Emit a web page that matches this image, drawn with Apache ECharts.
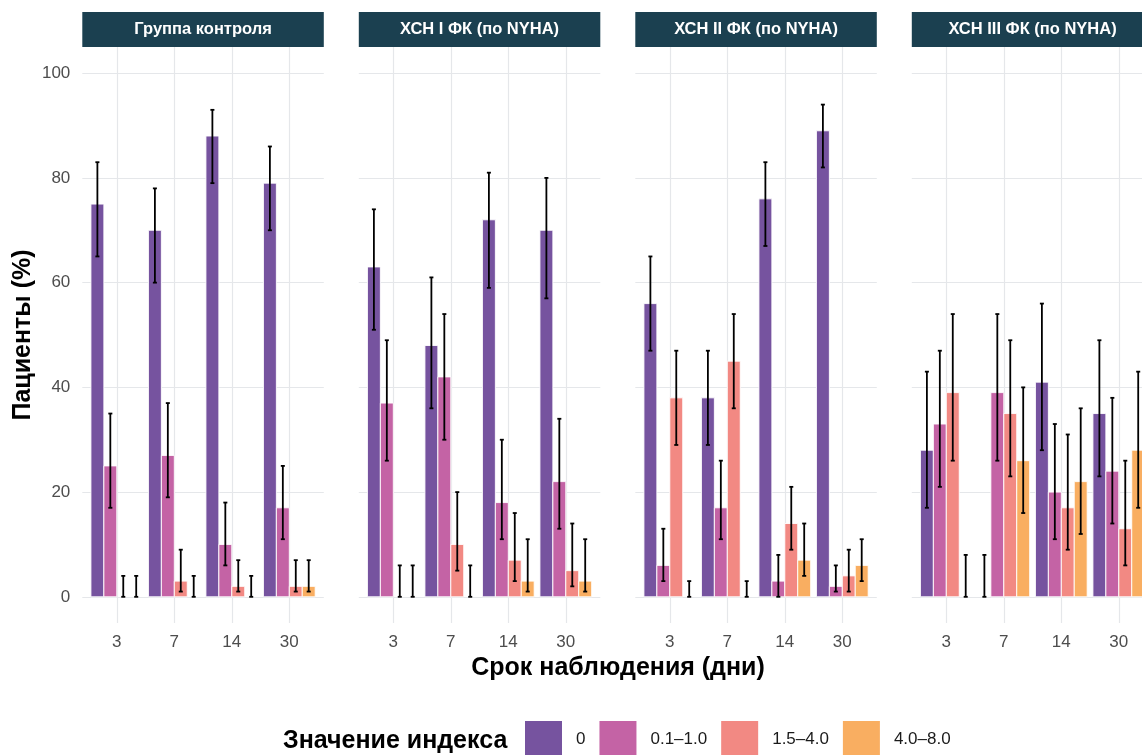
<!DOCTYPE html>
<html>
<head>
<meta charset="utf-8">
<script src="https://cdn.jsdelivr.net/npm/echarts@6/dist/echarts.min.js"></script>
<style>
  html, body { margin: 0; padding: 0; background: #ffffff; }
  #chart { width: 1142px; height: 755px; }
</style>
</head>
<body>
<div id="chart"></div>
<script>
// Observation days (x categories) and index-value groups (fill)
const days = ['3', '7', '14', '30'];
const levels = ['0', '0.1–1.0', '1.5–4.0', '4.0–8.0'];
const levelColors = ['#76539F', '#C463A5', '#F28983', '#F9AE61'];
const panelTitles = ['Группа контроля', 'ХСН I ФК (по NYHA)', 'ХСН II ФК (по NYHA)', 'ХСН III ФК (по NYHA)'];
const yTicks = [0, 20, 40, 60, 80, 100];

// Share of patients (%), one row per index group, one column per day
const controlMean = [[75, 70, 88, 79], [25, 27, 10, 17], [0, 3, 2, 2], [0, 0, 0, 2]];
const controlLow  = [[65, 60, 79, 70], [17, 19, 6, 11], [0, 1, 1, 1], [0, 0, 0, 1]];
const controlHigh = [[83, 78, 93, 86], [35, 37, 18, 25], [4, 9, 7, 7], [4, 4, 4, 7]];

const nyha1Mean = [[63, 48, 72, 70], [37, 42, 18, 22], [0, 10, 7, 5], [0, 0, 3, 3]];
const nyha1Low  = [[51, 36, 59, 57], [26, 30, 11, 13], [0, 5, 3, 2], [0, 0, 1, 1]];
const nyha1High = [[74, 61, 81, 80], [49, 54, 30, 34], [6, 20, 16, 14], [6, 6, 11, 11]];

const nyha2Mean = [[56, 38, 76, 89], [6, 17, 3, 2], [38, 45, 14, 4], [0, 0, 7, 6]];
const nyha2Low  = [[47, 29, 67, 82], [3, 11, 0, 1], [29, 36, 9, 1], [0, 0, 4, 3]];
const nyha2High = [[65, 47, 83, 94], [13, 26, 8, 6], [47, 54, 21, 9], [3, 3, 14, 11]];

const nyha3Mean = [[28, 0, 41, 35], [33, 39, 20, 24], [39, 35, 17, 13], [0, 26, 22, 28]];
const nyha3Low  = [[17, 0, 28, 23], [21, 26, 11, 14], [26, 23, 9, 6], [0, 16, 12, 17]];
const nyha3High = [[43, 8, 56, 49], [47, 54, 33, 38], [54, 49, 31, 26], [8, 40, 36, 43]];

const panelMeans = [controlMean, nyha1Mean, nyha2Mean, nyha3Mean];
const panelLows  = [controlLow, nyha1Low, nyha2Low, nyha3Low];
const panelHighs = [controlHigh, nyha1High, nyha2High, nyha3High];

// Layout of the facet panels (pixels); the last panel runs past the right edge
const FONT = "'Liberation Sans', Arial, sans-serif";
const CANVAS_W = 1142;
const panelLeft0 = 82.3, panelStep = 276.5, panelWidth = 241.5;
const panelTop = 47, panelHeight = 576;
const stripTop = 12, stripHeight = 35;
const xMin = 0.4, xMax = 4.6;
const pxPerUnit = panelWidth / (xMax - xMin);

// Dodge geometry (in x-axis units, category k sits at k+1)
const dodgeWidth = 0.9;
const slot = dodgeWidth / levels.length;
const capHalf = 0.035;
const slotOffset = j => -dodgeWidth / 2 + slot * (j + 0.5);

const grids = [], xAxes = [], yAxes = [], series = [], graphics = [];

panelTitles.forEach((title, p) => {
  const left = panelLeft0 + p * panelStep;
  // A panel cut by the canvas edge keeps its scale: only its visible part is laid out
  const visibleWidth = Math.min(panelWidth, CANVAS_W - left);
  const visibleMax = xMin + visibleWidth / pxPerUnit;
  grids.push({ left: left, top: panelTop, width: visibleWidth, height: panelHeight, containLabel: false });

  xAxes.push({
    type: 'value', gridIndex: p, min: xMin, max: visibleMax,
    axisLine: { show: false },
    axisTick: { show: false, customValues: [1, 2, 3, 4] },
    axisLabel: {
      customValues: [1, 2, 3, 4],
      formatter: v => days[Math.round(v) - 1],
      color: '#4D4D4D', fontSize: 17, fontFamily: FONT, margin: 11
    },
    splitLine: { show: true, lineStyle: { color: '#E5E7EA', width: 1.2 } }
  });

  yAxes.push({
    type: 'value', gridIndex: p, min: -5, max: 105,
    axisLine: { show: false },
    axisTick: { show: false, customValues: yTicks },
    axisLabel: {
      show: p === 0, customValues: yTicks,
      color: '#4D4D4D', fontSize: 17, fontFamily: FONT, margin: 12
    },
    splitLine: { show: true, lineStyle: { color: '#E5E7EA', width: 1.2 } }
  });

  // Bars: one series per index group so the legend lists each group once
  levels.forEach((lev, j) => {
    const data = days.map((d, k) => [k + 1, panelMeans[p][j][k]]);
    series.push({
      type: 'custom', name: lev, xAxisIndex: p, yAxisIndex: p,
      itemStyle: { color: levelColors[j] },
      data: data,
      renderItem: (params, api) => {
        const x = api.value(0) + slotOffset(j);
        const v = api.value(1);
        if (!(v > 0)) return null;
        const a = api.coord([x - slot / 2, 0]);
        const b = api.coord([x + slot / 2, v]);
        return {
          type: 'rect',
          shape: { x: a[0], y: b[1], width: b[0] - a[0], height: a[1] - b[1] },
          style: { fill: levelColors[j], stroke: '#ffffff', lineWidth: 0.9 }
        };
      }
    });
  });

  // Confidence intervals drawn above all bars of the panel
  const errData = [];
  levels.forEach((lev, j) => {
    days.forEach((d, k) => {
      errData.push([k + 1, j, panelLows[p][j][k], panelHighs[p][j][k]]);
    });
  });
  series.push({
    type: 'custom', name: 'ci-' + p, xAxisIndex: p, yAxisIndex: p,
    data: errData, silent: true, z: 5,
    renderItem: (params, api) => {
      const x = api.value(0) + slotOffset(api.value(1));
      const lo = api.value(2), hi = api.value(3);
      const top = api.coord([x, hi]);
      const bot = api.coord([x, lo]);
      const capL = api.coord([x - capHalf, hi])[0];
      const capR = api.coord([x + capHalf, hi])[0];
      const st = { stroke: '#000000', lineWidth: 1.8 };
      return {
        type: 'group',
        children: [
          { type: 'line', shape: { x1: top[0], y1: top[1], x2: bot[0], y2: bot[1] }, style: st },
          { type: 'line', shape: { x1: capL, y1: top[1], x2: capR, y2: top[1] }, style: st },
          { type: 'line', shape: { x1: capL, y1: bot[1], x2: capR, y2: bot[1] }, style: st }
        ]
      };
    }
  });

  // Facet strip (full panel width; title centred on the whole panel)
  graphics.push({
    type: 'rect', left: left, top: stripTop,
    shape: { width: panelWidth, height: stripHeight },
    style: { fill: '#1B4050' }, z: 10
  });
  graphics.push({
    type: 'text', x: left + panelWidth / 2, y: stripTop + stripHeight / 2, z: 11,
    style: {
      text: title, fill: '#ffffff', font: 'bold 16.5px ' + FONT,
      textAlign: 'center', textVerticalAlign: 'middle'
    }
  });
});

// Axis titles and legend title
graphics.push({
  type: 'text', x: 23, y: panelTop + panelHeight / 2, rotation: Math.PI / 2,
  style: {
    text: 'Пациенты (%)', fill: '#000000', font: 'bold 25px ' + FONT,
    textAlign: 'center', textVerticalAlign: 'middle'
  }
});
graphics.push({
  type: 'text', x: 618, y: 668,
  style: {
    text: 'Срок наблюдения (дни)', fill: '#000000', font: 'bold 25px ' + FONT,
    textAlign: 'center', textVerticalAlign: 'middle'
  }
});
graphics.push({
  type: 'text', x: 283, y: 741,
  style: {
    text: 'Значение индекса', fill: '#000000', font: 'bold 25px ' + FONT,
    textAlign: 'left', textVerticalAlign: 'middle'
  }
});

const chart = echarts.init(document.getElementById('chart'), null, { renderer: 'canvas' });
chart.setOption({
  animation: false,
  backgroundColor: '#ffffff',
  grid: grids,
  xAxis: xAxes,
  yAxis: yAxes,
  series: series,
  graphic: graphics,
  legend: {
    data: levels.map((lev, j) => ({ name: lev, icon: 'rect', itemStyle: { color: levelColors[j] } })),
    left: 525, top: 721, orient: 'horizontal', padding: 0,
    itemWidth: 37, itemHeight: 37, itemGap: 14,
    selectedMode: false,
    textStyle: { fontSize: 17, color: '#1a1a1a', fontFamily: FONT, padding: [0, 0, 0, 9] }
  }
});
</script>
</body>
</html>
